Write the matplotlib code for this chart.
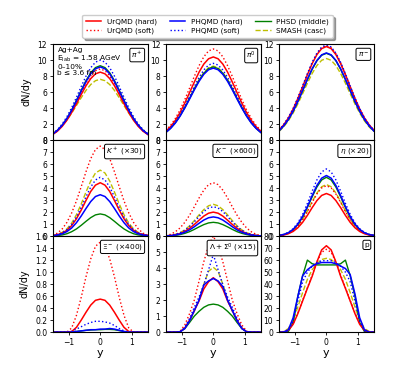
import matplotlib
matplotlib.use("Agg")
import matplotlib.pyplot as plt
from matplotlib.ticker import MultipleLocator, FormatStrFormatter

# rapidity grid
y = [-1.5, -1.35, -1.2, -1.05, -0.9, -0.75, -0.6, -0.45, -0.3, -0.15, 0.0,
     0.15, 0.3, 0.45, 0.6, 0.75, 0.9, 1.05, 1.2, 1.35, 1.5]

series_labels = ["UrQMD (hard)", "UrQMD (soft)", "PHQMD (hard)", "PHQMD (soft)",
                 "PHSD (middle)", "SMASH (casc)"]

# ---- pi+ ----
pip_urqmd_hard = [0.70, 1.12, 1.72, 2.50, 3.46, 4.55, 5.70, 6.79, 7.69, 8.29, 8.5, 8.29, 7.69, 6.79, 5.70, 4.55, 3.46, 2.50, 1.72, 1.12, 0.70]
pip_urqmd_soft = [0.73, 1.17, 1.80, 2.62, 3.62, 4.76, 5.96, 7.11, 8.05, 8.68, 8.9, 8.68, 8.05, 7.11, 5.96, 4.76, 3.62, 2.62, 1.80, 1.17, 0.73]
pip_phqmd_hard = [0.75, 1.21, 1.85, 2.69, 3.72, 4.90, 6.13, 7.31, 8.28, 8.92, 9.15, 8.92, 8.28, 7.31, 6.13, 4.90, 3.72, 2.69, 1.85, 1.21, 0.75]
pip_phqmd_soft = [0.82, 1.32, 2.02, 2.94, 4.07, 5.35, 6.70, 7.99, 9.05, 9.75, 10.0, 9.75, 9.05, 7.99, 6.70, 5.35, 4.07, 2.94, 2.02, 1.32, 0.82]
pip_phsd = [0.76, 1.23, 1.88, 2.73, 3.79, 4.98, 6.23, 7.43, 8.42, 9.07, 9.3, 9.07, 8.42, 7.43, 6.23, 4.98, 3.79, 2.73, 1.88, 1.23, 0.76]
pip_smash = [0.80, 1.23, 1.80, 2.52, 3.38, 4.33, 5.30, 6.21, 6.95, 7.43, 7.6, 7.43, 6.95, 6.21, 5.30, 4.33, 3.38, 2.52, 1.80, 1.23, 0.80]

# ---- pi0 ----
pi0_urqmd_hard = [1.09, 1.68, 2.46, 3.45, 4.63, 5.93, 7.26, 8.50, 9.51, 10.17, 10.4, 10.17, 9.51, 8.50, 7.26, 5.93, 4.63, 3.45, 2.46, 1.68, 1.09]
pi0_urqmd_soft = [1.20, 1.85, 2.70, 3.78, 5.07, 6.50, 7.96, 9.31, 10.42, 11.15, 11.4, 11.15, 10.42, 9.31, 7.96, 6.50, 5.07, 3.78, 2.70, 1.85, 1.20]
pi0_phqmd_hard = [0.95, 1.46, 2.13, 2.99, 4.01, 5.13, 6.28, 7.35, 8.23, 8.80, 9.0, 8.80, 8.23, 7.35, 6.28, 5.13, 4.01, 2.99, 2.13, 1.46, 0.95]
pi0_phqmd_soft = [1.01, 1.56, 2.28, 3.19, 4.27, 5.47, 6.70, 7.84, 8.77, 9.39, 9.6, 9.39, 8.77, 7.84, 6.70, 5.47, 4.27, 3.19, 2.28, 1.56, 1.01]
pi0_phsd = [0.96, 1.48, 2.17, 3.04, 4.07, 5.22, 6.39, 7.48, 8.36, 8.95, 9.15, 8.95, 8.36, 7.48, 6.39, 5.22, 4.07, 3.04, 2.17, 1.48, 0.96]
pi0_smash = [0.97, 1.50, 2.19, 3.07, 4.12, 5.27, 6.46, 7.56, 8.45, 9.05, 9.25, 9.05, 8.45, 7.56, 6.46, 5.27, 4.12, 3.07, 2.19, 1.50, 0.97]

# ---- pi- ----
pim_urqmd_hard = [1.23, 1.90, 2.77, 3.88, 5.21, 6.67, 8.17, 9.56, 10.69, 11.44, 11.7, 11.44, 10.69, 9.56, 8.17, 6.67, 5.21, 3.88, 2.77, 1.90, 1.23]
pim_urqmd_soft = [1.24, 1.91, 2.80, 3.92, 5.25, 6.73, 8.24, 9.64, 10.79, 11.54, 11.8, 11.54, 10.79, 9.64, 8.24, 6.73, 5.25, 3.92, 2.80, 1.91, 1.24]
pim_phqmd_hard = [1.14, 1.77, 2.58, 3.62, 4.85, 6.21, 7.61, 8.91, 9.96, 10.66, 10.9, 10.66, 9.96, 8.91, 7.61, 6.21, 4.85, 3.62, 2.58, 1.77, 1.14]
pim_phqmd_soft = [1.25, 1.93, 2.82, 3.95, 5.30, 6.78, 8.31, 9.72, 10.88, 11.64, 11.9, 11.64, 10.88, 9.72, 8.31, 6.78, 5.30, 3.95, 2.82, 1.93, 1.25]
pim_phsd = [1.14, 1.76, 2.57, 3.60, 4.83, 6.18, 7.57, 8.86, 9.92, 10.61, 10.85, 10.61, 9.92, 8.86, 7.57, 6.18, 4.83, 3.60, 2.57, 1.76, 1.14]
pim_smash = [1.07, 1.65, 2.42, 3.39, 4.54, 5.81, 7.12, 8.33, 9.32, 9.98, 10.2, 9.98, 9.32, 8.33, 7.12, 5.81, 4.54, 3.39, 2.42, 1.65, 1.07]

# ---- K+ (x30) ----
kp_urqmd_hard = [0.05, 0.12, 0.25, 0.49, 0.88, 1.45, 2.17, 2.97, 3.72, 4.25, 4.45, 4.25, 3.72, 2.97, 2.17, 1.45, 0.88, 0.49, 0.25, 0.12, 0.05]
kp_urqmd_soft = [0.08, 0.25, 0.60, 1.15, 1.94, 2.94, 4.12, 5.36, 6.46, 7.22, 7.5, 7.22, 6.46, 5.36, 4.12, 2.94, 1.94, 1.15, 0.60, 0.25, 0.08]
kp_phqmd_hard = [0.04, 0.09, 0.19, 0.38, 0.68, 1.12, 1.68, 2.30, 2.88, 3.30, 3.45, 3.30, 2.88, 2.30, 1.68, 1.12, 0.68, 0.38, 0.19, 0.09, 0.04]
kp_phqmd_soft = [0.05, 0.13, 0.27, 0.54, 0.97, 1.59, 2.39, 3.27, 4.09, 4.68, 4.9, 4.68, 4.09, 3.27, 2.39, 1.59, 0.97, 0.54, 0.27, 0.13, 0.05]
kp_phsd = [0.02, 0.05, 0.10, 0.20, 0.37, 0.60, 0.90, 1.23, 1.54, 1.77, 1.85, 1.77, 1.54, 1.23, 0.90, 0.60, 0.37, 0.20, 0.10, 0.05, 0.02]
kp_smash = [0.06, 0.14, 0.31, 0.61, 1.09, 1.79, 2.68, 3.67, 4.59, 5.26, 5.5, 5.26, 4.59, 3.67, 2.68, 1.79, 1.09, 0.61, 0.31, 0.14, 0.06]

# ---- K- (x600) ----
km_urqmd_hard = [0.02, 0.05, 0.11, 0.22, 0.40, 0.65, 0.97, 1.33, 1.67, 1.91, 2.0, 1.91, 1.67, 1.33, 0.97, 0.65, 0.40, 0.22, 0.11, 0.05, 0.02]
km_urqmd_soft = [0.05, 0.15, 0.36, 0.68, 1.15, 1.74, 2.44, 3.18, 3.83, 4.29, 4.45, 4.29, 3.83, 3.18, 2.44, 1.74, 1.15, 0.68, 0.36, 0.15, 0.05]
km_phqmd_hard = [0.02, 0.04, 0.09, 0.18, 0.32, 0.52, 0.78, 1.07, 1.34, 1.53, 1.6, 1.53, 1.34, 1.07, 0.78, 0.52, 0.32, 0.18, 0.09, 0.04, 0.02]
km_phqmd_soft = [0.03, 0.06, 0.14, 0.27, 0.49, 0.80, 1.19, 1.63, 2.05, 2.34, 2.45, 2.34, 2.05, 1.63, 1.19, 0.80, 0.49, 0.27, 0.14, 0.06, 0.03]
km_phsd = [0.01, 0.03, 0.06, 0.13, 0.23, 0.37, 0.56, 0.77, 0.96, 1.10, 1.15, 1.10, 0.96, 0.77, 0.56, 0.37, 0.23, 0.13, 0.06, 0.03, 0.01]
km_smash = [0.03, 0.07, 0.15, 0.29, 0.52, 0.86, 1.29, 1.77, 2.21, 2.53, 2.65, 2.53, 2.21, 1.77, 1.29, 0.86, 0.52, 0.29, 0.15, 0.07, 0.03]

# ---- eta (x20) ----
eta_urqmd_hard = [0.04, 0.09, 0.20, 0.39, 0.70, 1.15, 1.73, 2.37, 2.96, 3.39, 3.55, 3.39, 2.96, 2.37, 1.73, 1.15, 0.70, 0.39, 0.20, 0.09, 0.04]
eta_urqmd_soft = [0.05, 0.11, 0.24, 0.46, 0.83, 1.37, 2.05, 2.80, 3.51, 4.02, 4.2, 4.02, 3.51, 2.80, 2.05, 1.37, 0.83, 0.46, 0.24, 0.11, 0.05]
eta_phqmd_hard = [0.06, 0.13, 0.28, 0.56, 1.00, 1.64, 2.46, 3.37, 4.22, 4.83, 5.05, 4.83, 4.22, 3.37, 2.46, 1.64, 1.00, 0.56, 0.28, 0.13, 0.06]
eta_phqmd_soft = [0.06, 0.15, 0.31, 0.62, 1.11, 1.82, 2.73, 3.74, 4.68, 5.35, 5.6, 5.35, 4.68, 3.74, 2.73, 1.82, 1.11, 0.62, 0.31, 0.15, 0.06]
eta_phsd = [0.05, 0.13, 0.27, 0.54, 0.97, 1.59, 2.39, 3.27, 4.09, 4.68, 4.9, 4.68, 4.09, 3.27, 2.39, 1.59, 0.97, 0.54, 0.27, 0.13, 0.05]
eta_smash = [0.05, 0.11, 0.24, 0.47, 0.85, 1.40, 2.09, 2.87, 3.59, 4.11, 4.3, 4.11, 3.59, 2.87, 2.09, 1.40, 0.85, 0.47, 0.24, 0.11, 0.05]

# ---- Xi- (x400) ----
xi_urqmd_hard = [0, 0, 0, 0, 0.01, 0.08, 0.20, 0.33, 0.45, 0.53, 0.55, 0.53, 0.45, 0.33, 0.20, 0.08, 0.01, 0, 0, 0, 0]
xi_urqmd_soft = [0, 0, 0, 0, 0.07, 0.28, 0.58, 0.92, 1.22, 1.43, 1.5, 1.43, 1.22, 0.92, 0.58, 0.28, 0.07, 0, 0, 0, 0]
xi_phqmd_hard = [0, 0, 0, 0, 0, 0.01, 0.02, 0.03, 0.04, 0.04, 0.05, 0.05, 0.06, 0.05, 0.03, 0.01, 0, 0, 0, 0, 0]
xi_phqmd_soft = [0, 0, 0, 0, 0.01, 0.05, 0.09, 0.13, 0.16, 0.18, 0.18, 0.17, 0.15, 0.11, 0.06, 0.02, 0, 0, 0, 0, 0]
xi_phsd = [0, 0, 0, 0, 0, 0.01, 0.02, 0.03, 0.035, 0.04, 0.04, 0.045, 0.045, 0.04, 0.025, 0.01, 0, 0, 0, 0, 0]

# ---- Lambda + Sigma0 (x15) ----
lam_urqmd_hard = [0, 0, 0, 0.02, 0.25, 0.75, 1.35, 1.95, 2.7, 3.15, 3.4, 3.15, 2.7, 1.95, 1.35, 0.75, 0.25, 0.02, 0, 0, 0]
lam_urqmd_soft = [0, 0, 0, 0.05, 0.45, 1.15, 2.0, 3.2, 4.4, 5.4, 6.0, 5.4, 4.4, 3.2, 2.0, 1.15, 0.45, 0.05, 0, 0, 0]
lam_phqmd_hard = [0, 0, 0, 0.02, 0.22, 0.7, 1.35, 2.0, 2.95, 3.2, 3.35, 3.2, 2.85, 2.0, 1.35, 0.7, 0.22, 0.02, 0, 0, 0]
lam_phqmd_soft = [0, 0, 0, 0.0, 0.3, 0.85, 1.55, 2.2, 2.95, 3.9, 4.85, 3.9, 2.95, 2.2, 1.55, 0.85, 0.3, 0.0, 0, 0, 0]
lam_phsd = [0, 0, 0, 0.03, 0.22, 0.6, 1.0, 1.3, 1.55, 1.7, 1.75, 1.7, 1.55, 1.3, 1.0, 0.6, 0.22, 0.03, 0, 0, 0]
lam_smash = [0, 0, 0, 0.02, 0.25, 0.7, 1.3, 2.05, 3.0, 3.8, 4.05, 3.8, 3.0, 2.05, 1.3, 0.7, 0.25, 0.02, 0, 0, 0]

# ---- protons ----
p_urqmd_hard = [0, 0.2, 1.5, 6.5, 15.5, 26, 36.5, 46.5, 58.5, 68.5, 72, 68.5, 58.5, 46.5, 36.5, 26, 15.5, 6.5, 1.5, 0.2, 0]
p_urqmd_soft = [0, 0.3, 1.8, 7, 16, 26.5, 37, 47.5, 58.5, 66.5, 69, 66.5, 58.5, 47.5, 37, 26.5, 16, 7, 1.8, 0.3, 0]
p_phqmd_hard = [0, 0, 2, 12, 30, 47, 52, 55, 57, 58, 58, 58, 57, 55, 53, 48, 32, 12, 2, 0, 0]
p_phqmd_soft = [0, 0, 1, 9, 26, 42, 50, 55, 58, 59.5, 59.5, 59.5, 58, 55, 50, 42, 26, 9, 1, 0, 0]
p_phsd = [0, 0, 0.5, 8, 30, 47, 60, 57, 56, 56, 56, 56, 56, 57, 60, 47, 30, 8, 0.5, 0, 0]
p_smash = [0, 0.5, 3, 10, 21, 33, 44, 52, 57, 60.5, 61.5, 60.5, 57, 52, 44, 33, 21, 10, 3, 0.5, 0]

panel_labels = [r"$\pi^+$", r"$\pi^0$", r"$\pi^-$",
                r"$K^+$ $(\times 30)$", r"$K^-$ $(\times 600)$", r"$\eta$ $(\times 20)$",
                r"$\Xi^-$ $(\times 400)$", r"$\Lambda+\Sigma^0$ $(\times 15)$", r"p"]

panels = [
    [pip_urqmd_hard, pip_urqmd_soft, pip_phqmd_hard, pip_phqmd_soft, pip_phsd, pip_smash],
    [pi0_urqmd_hard, pi0_urqmd_soft, pi0_phqmd_hard, pi0_phqmd_soft, pi0_phsd, pi0_smash],
    [pim_urqmd_hard, pim_urqmd_soft, pim_phqmd_hard, pim_phqmd_soft, pim_phsd, pim_smash],
    [kp_urqmd_hard, kp_urqmd_soft, kp_phqmd_hard, kp_phqmd_soft, kp_phsd, kp_smash],
    [km_urqmd_hard, km_urqmd_soft, km_phqmd_hard, km_phqmd_soft, km_phsd, km_smash],
    [eta_urqmd_hard, eta_urqmd_soft, eta_phqmd_hard, eta_phqmd_soft, eta_phsd, eta_smash],
    [xi_urqmd_hard, xi_urqmd_soft, xi_phqmd_hard, xi_phqmd_soft, xi_phsd, None],
    [lam_urqmd_hard, lam_urqmd_soft, lam_phqmd_hard, lam_phqmd_soft, lam_phsd, lam_smash],
    [p_urqmd_hard, p_urqmd_soft, p_phqmd_hard, p_phqmd_soft, p_phsd, p_smash],
]

styles = [
    dict(color="red", ls="-", lw=1.1),
    dict(color="red", ls=":", lw=1.0),
    dict(color="blue", ls="-", lw=1.1),
    dict(color="blue", ls=":", lw=1.0),
    dict(color="green", ls="-", lw=1.0),
    dict(color="#bfbf00", ls="--", lw=1.0),
]
# draw order so that colours overlay similar to reference
order = [5, 4, 1, 0, 3, 2]

ylims = [(0, 12)] * 3 + [(0, 8)] * 3 + [(0, 1.6), (0, 6), (0, 80)]
ysteps = [2] * 3 + [1] * 3 + [0.2, 1, 10]

fig = plt.figure(figsize=(4.15, 3.74), dpi=100)
gs = fig.add_gridspec(3, 3, left=0.127, right=0.901, top=0.882, bottom=0.112,
                      wspace=0.19, hspace=0.0)

handles = [None] * 6
for i in range(9):
    r, c = divmod(i, 3)
    ax = fig.add_subplot(gs[r, c])
    for k in order:
        data = panels[i][k]
        if data is None:
            continue
        ln, = ax.plot(y, data, label=series_labels[k], **styles[k])
        handles[k] = ln
    ax.set_xlim(-1.5, 1.5)
    ax.set_ylim(*ylims[i])
    ax.yaxis.set_major_locator(MultipleLocator(ysteps[i]))
    if i == 6:
        ax.yaxis.set_major_formatter(FormatStrFormatter("%.1f"))
    ax.set_xticks([-1, 0, 1])
    ax.tick_params(labelsize=5.5, length=2.5, width=0.6, pad=1.5)
    for s in ax.spines.values():
        s.set_linewidth(0.8)
    if r < 2:
        ax.tick_params(labelbottom=False)
    else:
        ax.set_xticklabels(["\u22121", "0", "1"])
        ax.set_xlabel("y", fontsize=8, labelpad=1)
    if c == 0 and r in (0, 2):
        ax.set_ylabel("dN/dy", fontsize=7, labelpad=4)
    ax.text(0.95, 0.94, panel_labels[i], transform=ax.transAxes, ha="right", va="top",
            fontsize=5.3,
            bbox=dict(boxstyle="round,pad=0.22", fc="white", ec="black", lw=0.7))
    if i == 0:
        ax.text(0.05, 0.965, "Ag+Ag\nE$_{\\rm lab}$ = 1.58 AGeV\n0\u201310%\nb \u2264 3.6 fm",
                transform=ax.transAxes, ha="left", va="top", fontsize=5.3,
                linespacing=1.0)

fig.legend(handles, series_labels, loc="upper center", bbox_to_anchor=(0.5, 0.97),
           ncol=3, fontsize=5.2, frameon=True, fancybox=True, shadow=True,
           handlelength=2.1, columnspacing=1.8, borderpad=0.5, labelspacing=0.35,
           handletextpad=0.8)

fig.savefig("out.png", dpi=100)
